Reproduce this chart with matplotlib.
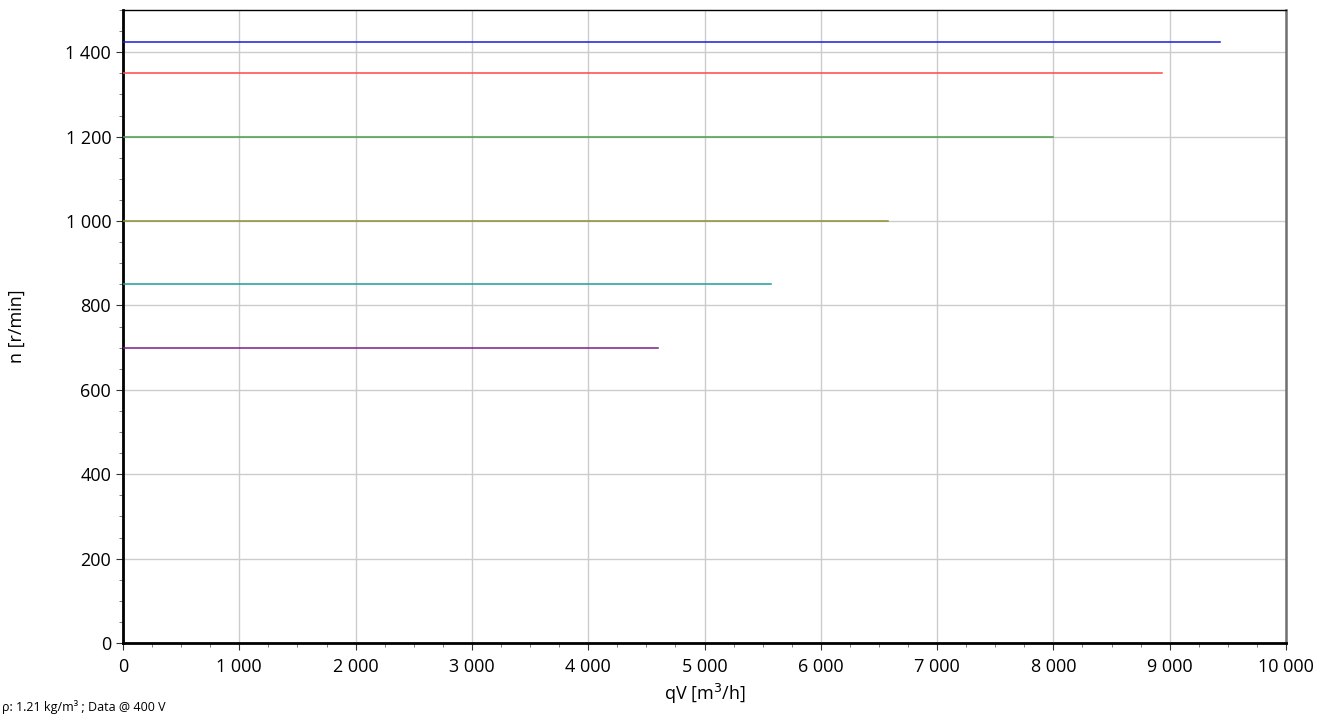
import matplotlib
matplotlib.use("Agg")
import matplotlib.pyplot as plt
from matplotlib.ticker import MultipleLocator, FuncFormatter

plt.rcParams["font.family"] = ["Open Sans", "DejaVu Sans"]

# speed lines: n [r/min] and the max airflow qV [m3/h] each reaches
speeds = [1425, 1350, 1200, 1000, 850, 700]
qv_max = [9430, 8930, 8000, 6575, 5570, 4600]
colors = ["#1c1cd6", "#ff4848", "#4c9e4c", "#8e8e32", "#1e9c9c", "#7c1c8c"]


def thousands(v, pos):
    return f"{int(v):,}".replace(",", " ")


fig = plt.figure(figsize=(13.39, 7.15), dpi=100)
ax = fig.add_axes([123 / 1339, 72 / 715, (1286 - 123) / 1339, (643 - 10) / 715])

for n, q, c in zip(speeds, qv_max, colors):
    ax.plot([0, q], [n, n], color=c, linewidth=1.1, zorder=3)

ax.set_xlim(0, 10000)
ax.set_ylim(0, 1500)
ax.xaxis.set_major_locator(MultipleLocator(1000))
ax.xaxis.set_minor_locator(MultipleLocator(250))
ax.yaxis.set_major_locator(MultipleLocator(200))
ax.yaxis.set_minor_locator(MultipleLocator(50))
ax.xaxis.set_major_formatter(FuncFormatter(thousands))
ax.yaxis.set_major_formatter(FuncFormatter(thousands))

ax.grid(True, which="major", color="#cccccc", linewidth=1.0)
ax.set_axisbelow(True)

ax.tick_params(which="major", length=5, width=0.8, color="#333333", labelsize=13)
ax.tick_params(which="minor", length=3, width=0.6, color="#666666")
ax.tick_params(axis="x", pad=6)

ax.spines["left"].set_linewidth(2.0)
ax.spines["bottom"].set_linewidth(2.0)
ax.spines["top"].set_linewidth(1.0)
ax.spines["right"].set_linewidth(1.8)
ax.spines["right"].set_color("#707070")

ax.set_xlabel("qV [m$^3$/h]", fontsize=13, labelpad=4)
ax.set_ylabel("n [r/min]", fontsize=13)
ax.yaxis.set_label_coords(-97 / 1163, 0.5)

fig.text(2 / 1339, 1 / 715, "ρ: 1.21 kg/m³ ; Data @ 400 V", fontsize=9, ha="left", va="bottom")

plt.savefig("out.png", dpi=100)
plt.close()
